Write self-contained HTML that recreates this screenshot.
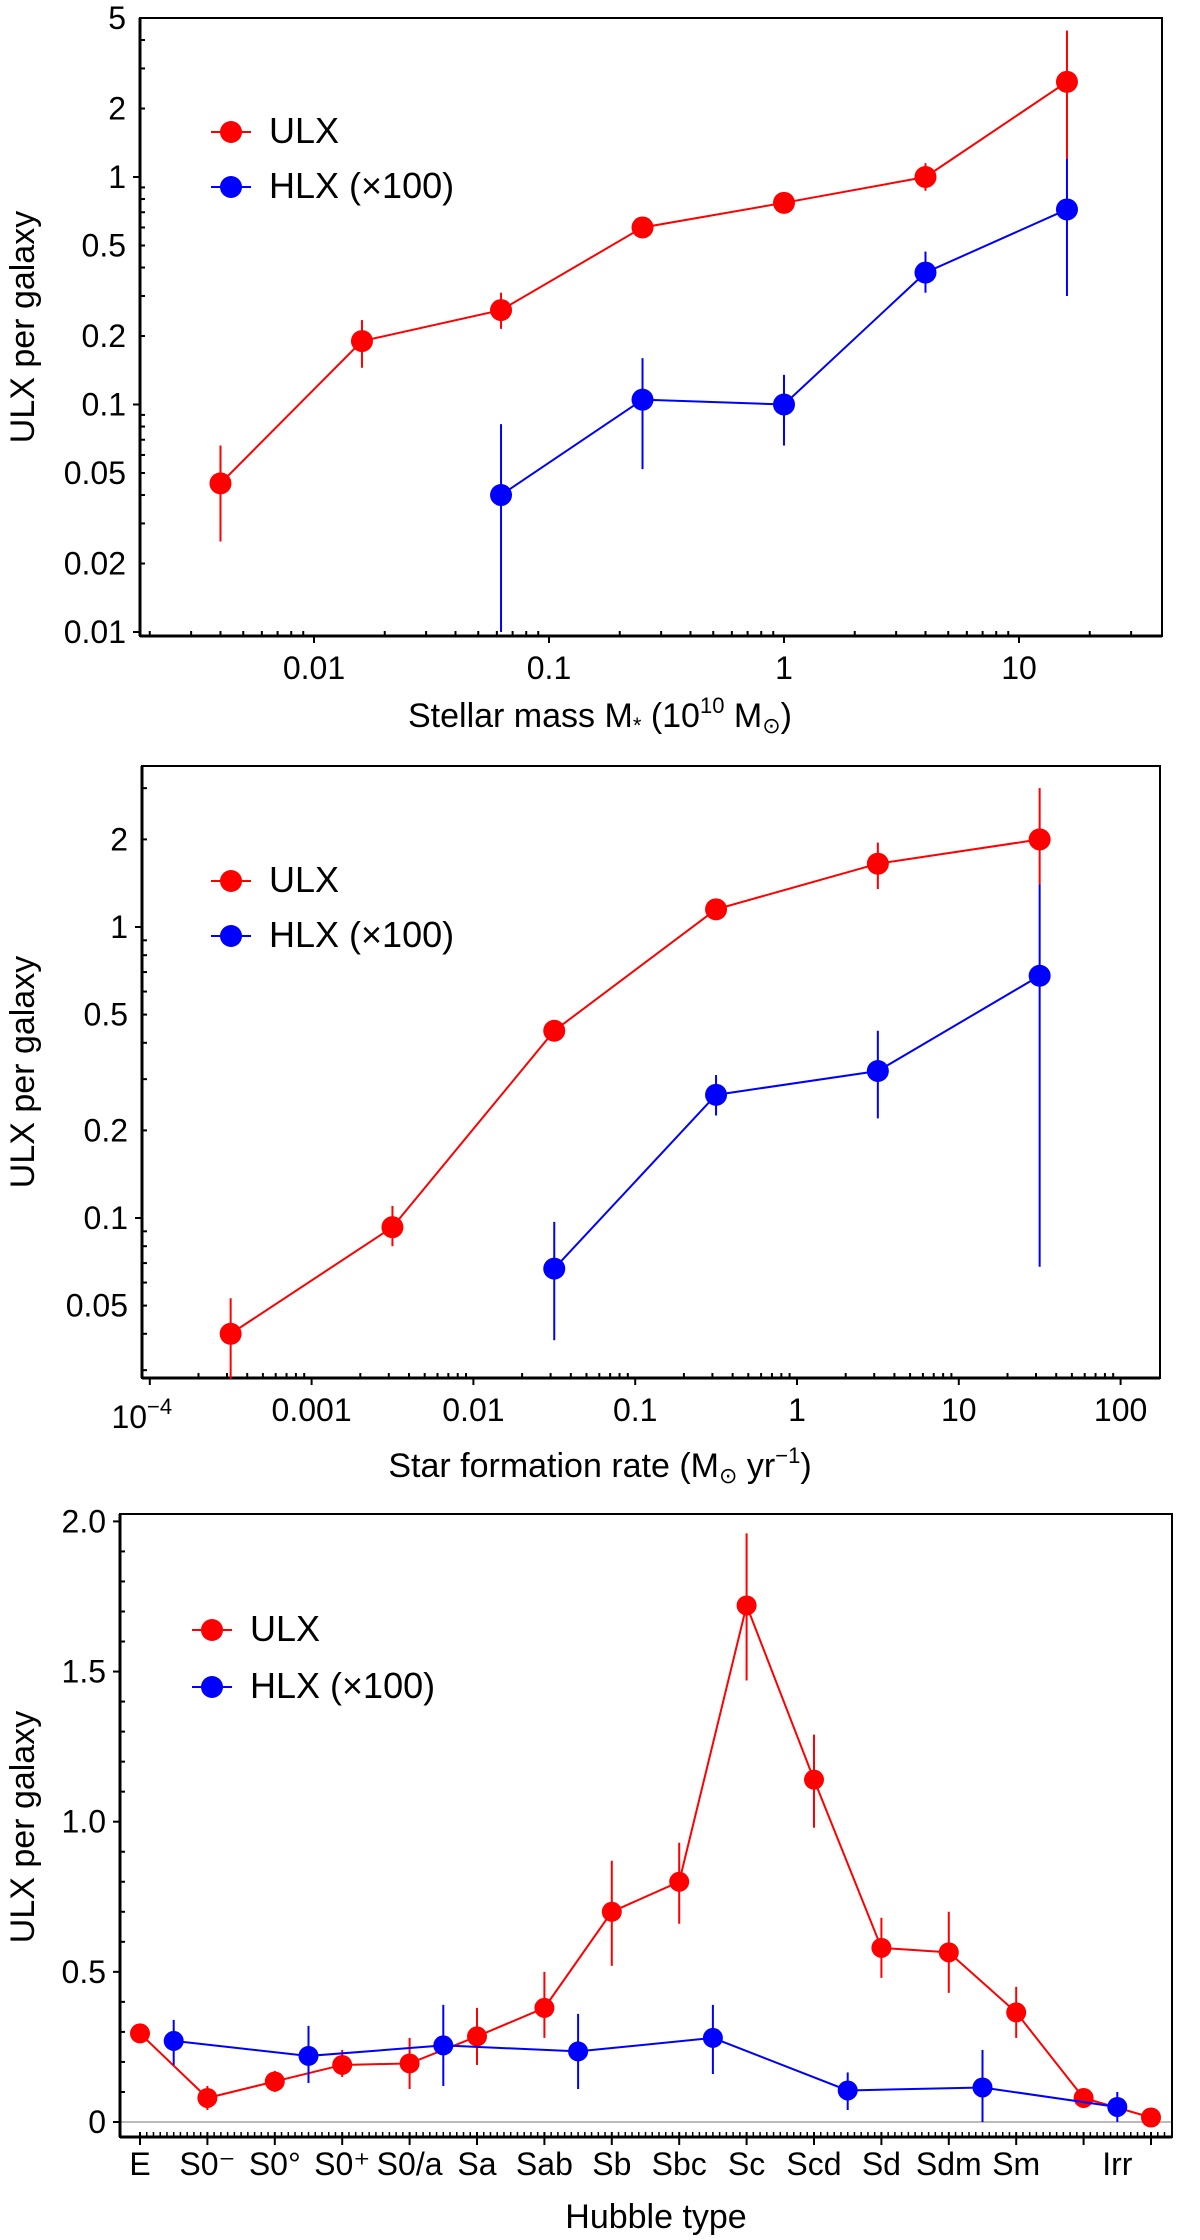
<!DOCTYPE html>
<html><head><meta charset="utf-8"><style>
html,body{margin:0;padding:0;background:#fff;}
svg{display:block;}
text{font-family:"Liberation Sans","DejaVu Sans",sans-serif;fill:#000;}
</style></head><body>
<svg id="fig" width="1200" height="2240" viewBox="0 0 1200 2240" xmlns="http://www.w3.org/2000/svg"></svg>
<script>
// ---------- Panel 1: stellar mass ----------
const massX = [0.004, 0.016, 0.0625, 0.25, 1, 4, 16];
const massUlx = [0.045, 0.19, 0.26, 0.6, 0.77, 1.0, 2.62];
const massUlxLo = [0.025, 0.145, 0.215, 0.55, 0.72, 0.87, 1.2];
const massUlxHi = [0.066, 0.235, 0.31, 0.67, 0.82, 1.15, 4.4];
const massHlxX = [0.0625, 0.25, 1, 4, 16];
const massHlx = [0.04, 0.105, 0.1, 0.38, 0.72];
const massHlxLo = [0.01, 0.052, 0.066, 0.31, 0.3];
const massHlxHi = [0.082, 0.16, 0.135, 0.47, 1.2];
const massXTicks = ["0.01","0.1","1","10"];
const massYTicks = ["0.01","0.02","0.05","0.1","0.2","0.5","1","2","5"];
// ---------- Panel 2: SFR ----------
const sfrX = [0.000316, 0.00316, 0.0316, 0.316, 3.16, 31.6];
const sfrUlx = [0.04, 0.093, 0.44, 1.15, 1.65, 2.0];
const sfrUlxLo = [0.028, 0.08, 0.41, 1.07, 1.35, 1.4];
const sfrUlxHi = [0.053, 0.11, 0.47, 1.23, 1.95, 3.0];
const sfrHlxX = [0.0316, 0.316, 3.16, 31.6];
const sfrHlx = [0.067, 0.265, 0.32, 0.68];
const sfrHlxLo = [0.038, 0.225, 0.22, 0.068];
const sfrHlxHi = [0.097, 0.31, 0.44, 1.4];
const sfrXTicks = ["0.001","0.01","0.1","1","10","100"];
const sfrYTicks = ["0.05","0.1","0.2","0.5","1","2"];
// ---------- Panel 3: Hubble type ----------
const hubbleLabels = ["E","S0\u207B","S0\u00B0","S0\u207A","S0/a","Sa","Sab","Sb","Sbc","Sc","Scd","Sd","Sdm","Sm"];
const hubbleUlxIdx = [0,1,2,3,4,5,6,7,8,9,10,11,12,13,14,15];
const hubbleUlx = [0.295,0.08,0.135,0.19,0.195,0.285,0.38,0.70,0.80,1.72,1.14,0.58,0.565,0.365,0.08,0.015];
const hubbleUlxLo = [0.27,0.04,0.10,0.15,0.11,0.19,0.28,0.52,0.66,1.47,0.98,0.48,0.43,0.28,0.06,0.0];
const hubbleUlxHi = [0.31,0.12,0.17,0.24,0.28,0.38,0.50,0.87,0.93,1.96,1.29,0.68,0.70,0.45,0.10,0.03];
const hubbleHlxIdx = [0.5,2.5,4.5,6.5,8.5,10.5,12.5,14.5];
const hubbleHlx = [0.27,0.22,0.255,0.235,0.28,0.105,0.115,0.05];
const hubbleHlxLo = [0.19,0.13,0.12,0.11,0.16,0.04,0.0,0.0];
const hubbleHlxHi = [0.34,0.32,0.39,0.36,0.39,0.165,0.24,0.10];
const hubbleYTicks = ["0","0.5","1.0","1.5","2.0"];

const NS="http://www.w3.org/2000/svg";
const svg=document.getElementById('fig');
function mk(tag,attrs,parent){const e=document.createElementNS(NS,tag);for(const k in attrs)e.setAttribute(k,attrs[k]);(parent||svg).appendChild(e);return e;}
function txt(s,x,y,size,anchor,parent){const t=mk('text',{x:x,y:y,'font-size':size,'text-anchor':anchor||'middle'},parent);t.textContent=s;return t;}

function series(g,xs,ys,lo,hi,X,Y,color,name,r){
  const pts=xs.map((v,i)=>X(v)+','+Y(ys[i])).join(' ');
  const pl=mk('polyline',{points:pts,fill:'none',stroke:color,'stroke-width':2},g);
  
  
  xs.forEach((v,i)=>{
    const eb=mk('line',{x1:X(v),x2:X(v),y1:Y(Math.max(lo[i],1e-9)),y2:Y(hi[i]),stroke:color,'stroke-width':2},g);
    
    
    const c=mk('circle',{cx:X(v),cy:Y(ys[i]),r:r,fill:color},g);
    
    
  });
}
function legend(g,x,y1,y2,size){
  [[y1,'#f00','ULX','legend-ulx'],[y2,'#00f','HLX (\u00D7100)','legend-hlx']].forEach(a=>{
    const lg=mk('g',{},g);
    
    
    mk('line',{x1:x-20,x2:x+20,y1:a[0],y2:a[0],stroke:a[1],'stroke-width':2},lg);
    mk('circle',{cx:x,cy:a[0],r:11,fill:a[1]},lg);
    txt(a[2],x+38,a[0]+11,size,'start',lg);
  });
}
function frame(g,L,T,R,B){
  mk('rect',{x:L,y:T,width:R-L,height:B-T,fill:'none',stroke:'#000','stroke-width':2},g);
  mk('line',{x1:L,x2:R,y1:B,y2:B,stroke:'#000','stroke-width':3},g);
  mk('line',{x1:L,x2:L,y1:T,y2:B,stroke:'#000','stroke-width':3},g);
}
function logPanel(o){
  const g=mk('g',{});
  
  
  const X=v=>o.x1+(Math.log10(v))*o.xd;
  const Y=v=>o.y1-(Math.log10(v))*o.yd;
  frame(g,o.L,o.T,o.R,o.B);
  // x ticks
  for(let d=o.xdec[0];d<=o.xdec[1];d++){
    for(let m=1;m<10;m++){
      const v=m*Math.pow(10,d), x=X(v);
      if(x<o.L+2||x>o.R-2)continue;
      if(m===1) mk('line',{x1:x,x2:x,y1:o.B,y2:o.B+7,stroke:'#000','stroke-width':2},g);
      else mk('line',{x1:x,x2:x,y1:o.B,y2:o.B-5,stroke:'#000','stroke-width':2},g);
    }
  }
  const xg=mk('g',{},g);
  
  
  o.xticks.forEach(s=>{txt(s,X(parseFloat(s)),o.B+43,32,'middle',xg);});
  if(o.extraX){const t=txt('10',X(1e-4)-8,o.B+50,32,'middle',xg);const s=mk('tspan',{dy:-14,'font-size':22},t);s.textContent='\u22124';}
  for(let d=o.ydec[0];d<=o.ydec[1];d++){
    for(let m=1;m<10;m++){
      const v=m*Math.pow(10,d), y=Y(v);
      if(y<o.T+2||y>o.B+1)continue;
      if(m===1) mk('line',{x1:o.L-7,x2:o.L,y1:y,y2:y,stroke:'#000','stroke-width':2},g);
      else mk('line',{x1:o.L,x2:o.L+5,y1:y,y2:y,stroke:'#000','stroke-width':2},g);
    }
  }
  const yg=mk('g',{},g);
  
  
  o.yticks.forEach(s=>{txt(s,o.L-14,Y(parseFloat(s))+11,32,'end',yg);});
  series(g,o.ux,o.u,o.ulo,o.uhi,X,Y,'#f00','ulx',11);
  series(g,o.hx,o.h,o.hlo,o.hhi,X,Y,'#00f','hlx',11);
  legend(g,o.legX,o.legY1,o.legY2,36);
  const yt=txt('ULX per galaxy',0,0,34,'middle',g);
  yt.setAttribute('transform','translate(34,'+((o.T+o.B)/2)+') rotate(-90)');
  
  
  return {g,X,Y};
}

// Panel 1
const p1=logPanel({name:'stellar-mass-panel',L:140,T:18,R:1162,B:636,x1:784,xd:235,y1:177,yd:227.5,
  xdec:[-3,1],ydec:[-2,0],xticks:massXTicks,yticks:massYTicks,
  ux:massX,u:massUlx,ulo:massUlxLo,uhi:massUlxHi,hx:massHlxX,h:massHlx,hlo:massHlxLo,hhi:massHlxHi,
  legX:231,legY1:132,legY2:187});
{const t=txt('Stellar mass M',600,727,34,'middle',p1.g);
 const a=mk('tspan',{'font-size':22,dy:6},t);a.textContent='*';
 const b=mk('tspan',{'font-size':34,dy:-6},t);b.textContent=' (10';
 const c=mk('tspan',{'font-size':22,dy:-14},t);c.textContent='10';
 const d=mk('tspan',{'font-size':34,dy:14},t);d.textContent=' M';
 const e=mk('tspan',{'font-size':22,dy:6},t);e.textContent='\u2299';
 const f=mk('tspan',{'font-size':34,dy:-6},t);f.textContent=')';
 
 }

// Panel 2
const p2=logPanel({name:'sfr-panel',L:142,T:766,R:1160,B:1378,x1:797,xd:161.8,y1:927,yd:291,
  xdec:[-4,2],ydec:[-2,0],xticks:sfrXTicks,yticks:sfrYTicks,extraX:true,
  ux:sfrX,u:sfrUlx,ulo:sfrUlxLo,uhi:sfrUlxHi,hx:sfrHlxX,h:sfrHlx,hlo:sfrHlxLo,hhi:sfrHlxHi,
  legX:231,legY1:881,legY2:936});
{const t=txt('Star formation rate (M',600,1477,34,'middle',p2.g);
 const e=mk('tspan',{'font-size':22,dy:6},t);e.textContent='\u2299';
 const f=mk('tspan',{'font-size':34,dy:-6},t);f.textContent=' yr';
 const c=mk('tspan',{'font-size':22,dy:-14},t);c.textContent='\u22121';
 const d=mk('tspan',{'font-size':34,dy:14},t);d.textContent=')';
 
 }

// Panel 3
{
  const g=mk('g',{});
  
  
  const L=120,T=1514,R=1172,B=2137;
  const X=i=>140+i*67.4;
  const Y=v=>2122-v*300.3;
  const zl=mk('line',{x1:L,x2:R,y1:Y(0),y2:Y(0),stroke:'#bbb','stroke-width':2},g);
  
  
  frame(g,L,T,R,B);
  for(let k=0;k<=155;k++){
    const x=X(k/10); if(x<L+2||x>R-2)continue;
    if(k%10===0) mk('line',{x1:x,x2:x,y1:B-5,y2:B+8,stroke:'#000','stroke-width':2},g);
    else mk('line',{x1:x,x2:x,y1:B,y2:B-5,stroke:'#000','stroke-width':1.5},g);
  }
  for(let k=-1;k<=20;k++){
    const v=k/10,y=Y(v); if(y<T+2||y>B)continue;
    if(k%5===0) mk('line',{x1:L-7,x2:L,y1:y,y2:y,stroke:'#000','stroke-width':2},g);
    else mk('line',{x1:L,x2:L+5,y1:y,y2:y,stroke:'#000','stroke-width':2},g);
  }
  const xg=mk('g',{},g);
  
  
  hubbleLabels.forEach((s,i)=>{txt(s,X(i),2175,32,'middle',xg);});
  txt('Irr',X(14.5),2175,32,'middle',xg);
  const yg=mk('g',{},g);
  
  
  hubbleYTicks.forEach(s=>{txt(s,L-14,Y(parseFloat(s))+11,32,'end',yg);});
  series(g,hubbleUlxIdx,hubbleUlx,hubbleUlxLo,hubbleUlxHi,X,Y,'#f00','ulx',10);
  series(g,hubbleHlxIdx,hubbleHlx,hubbleHlxLo,hubbleHlxHi,X,Y,'#00f','hlx',10);
  legend(g,212,1630,1687,36);
  const yt=txt('ULX per galaxy',0,0,34,'middle',g);
  yt.setAttribute('transform','translate(34,1827) rotate(-90)');
  
  
  const xt=txt('Hubble type',656,2228,34,'middle',g);
  
  
}
</script>
</body></html>
